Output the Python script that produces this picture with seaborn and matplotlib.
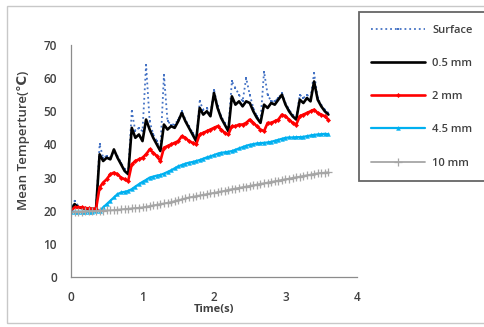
import numpy as np
import pandas as pd
import matplotlib
matplotlib.use("Agg")
import matplotlib.pyplot as plt
import seaborn as sns
from matplotlib.patches import Rectangle

sns.set_theme(style="white")
plt.rcParams['font.family'] = ['Open Sans', 'DejaVu Sans']

# time steps (s)
time = np.round(np.arange(0, 3.601, 0.05), 2)

surface = [20, 23, 21.5, 21, 20.8, 20.6, 20.6, 20.6,
           40, 36, 36.5, 36, 38, 36.5, 34.5, 32.5, 31.5,
           50, 44, 45, 44, 64, 47, 43, 41, 38.5,
           61, 47, 46, 46, 47.5, 50, 47.5, 45.5, 43.5, 41.5,
           53, 50.5, 51, 49, 56.5, 51.5, 48.5, 46.5, 44.5,
           59, 57, 55, 53, 60, 55, 51, 48.5, 47,
           62, 55, 53, 53, 54, 55.5, 52.5, 50.5, 49, 48,
           55, 54, 55, 54, 61.5, 54, 52, 50.5, 49.5]
mm05 = [20, 22, 21, 20.8, 20.6, 20.5, 20.5, 20.5,
        37, 35, 36, 35.5, 38.5, 36, 34, 32, 31,
        45, 42, 43, 41, 47.5, 44.5, 42, 40, 38,
        46, 44.5, 45.5, 45, 47, 49.5, 47, 45, 43, 41,
        51, 49, 50, 48.5, 55.5, 51, 48, 46, 44,
        54.5, 52, 53, 51.5, 53, 52.5, 50, 48, 46.5,
        52, 51, 52.5, 52, 53.5, 55, 52, 50, 48.5, 47.5,
        53.5, 52.5, 54, 53, 59, 53.5, 51.5, 50, 49]
mm2 = [20, 21, 21, 21, 20.8, 20.7, 20.6, 20.6,
       27, 28.5, 29.5, 31, 31.5, 31, 30, 29.5, 29,
       34, 35, 35.5, 36, 37, 38.5, 37.5, 36.5, 35,
       39, 39.5, 40, 40.5, 41, 42.5, 42, 41, 40.5, 40,
       43, 43.5, 44, 44.5, 45, 45.5, 44.5, 43.5, 43,
       45.5, 45.5, 46, 46, 46.5, 47.5, 46.5, 45.5, 44.5,
       44, 46.5, 46.5, 47, 47.5, 49, 48.5, 47.5, 46.5, 46,
       48.5, 49, 49.5, 50, 50.5, 49.5, 49, 48.5, 47.5]
mm45 = [19.7, 19.7, 19.7, 19.7, 19.7, 19.7, 19.7, 19.8,
        20, 21, 22, 23, 24, 25, 25.5, 25.7, 26,
        26.5, 27.3, 28, 28.7, 29.3, 30, 30.3, 30.6, 30.8,
        31.2, 31.7, 32.2, 32.8, 33.4, 33.8, 34.2, 34.5, 34.7, 35,
        35.3, 35.7, 36.1, 36.4, 36.8, 37.2, 37.5, 37.6, 37.8,
        38, 38.4, 38.8, 39.2, 39.6, 39.9, 40.1, 40.3, 40.4,
        40.5, 40.6, 40.8, 41.1, 41.4, 41.7, 42, 42.1, 42.1, 42.2,
        42.2, 42.3, 42.5, 42.7, 42.9, 43, 43.1, 43.2, 43.1]
mm10 = [19.5, 19.6, 19.7, 19.7, 19.8, 19.8, 19.9, 19.9,
        20, 20, 20.1, 20.1, 20.2, 20.3, 20.4, 20.5, 20.6,
        20.7, 20.8, 20.9, 21, 21.2, 21.4, 21.6, 21.8, 22,
        22.2, 22.4, 22.6, 22.9, 23.2, 23.4, 23.7, 24, 24.2, 24.4,
        24.6, 24.8, 25, 25.2, 25.4, 25.6, 25.8, 26, 26.3,
        26.5, 26.7, 26.9, 27.1, 27.3, 27.5, 27.7, 27.9, 28.1,
        28.3, 28.5, 28.7, 28.9, 29.1, 29.3, 29.5, 29.7, 29.9, 30.1,
        30.3, 30.5, 30.7, 30.9, 31.1, 31.3, 31.4, 31.5, 31.6]

series = [
    ("Surface", surface, dict(color="#4472C4", linestyle=":", lw=1.3, marker="s", markersize=1.8,
                              mec="#4472C4", mew=0)),
    ("0.5 mm", mm05, dict(color="black", linestyle="-", lw=1.9)),
    ("2 mm", mm2, dict(color="#FF0000", linestyle="-", lw=1.9, marker="D", markersize=2.2,
                       mec="#FF0000", mew=0.3)),
    ("4.5 mm", mm45, dict(color="#00B0F0", linestyle="-", lw=1.6, marker="^", markersize=2.8,
                          mec="#00B0F0", mew=0.3)),
    ("10 mm", mm10, dict(color="#A6A6A6", linestyle="-", lw=1.3, marker="+", markersize=6,
                         mec="#A6A6A6", mew=0.9)),
]

fig = plt.figure(figsize=(4.84, 3.27), dpi=100)
ax = fig.add_axes([0.1467, 0.1529, 0.5909, 0.7095])

for name, vals, style in series:
    df = pd.DataFrame({"Time": time, "Temp": vals})
    sns.lineplot(data=df, x="Time", y="Temp", ax=ax, label=name, **style)

ax.set_xlim(0, 4)
ax.set_ylim(0, 70)
ax.set_xticks(range(0, 5))
ax.set_yticks(range(0, 71, 10))
for s in ["top", "right"]:
    ax.spines[s].set_visible(False)
for s in ["left", "bottom"]:
    ax.spines[s].set_color("#8C8C8C")
    ax.spines[s].set_linewidth(0.9)
ax.tick_params(axis="both", direction="out", length=3, width=0.8, color="#8C8C8C",
               labelsize=8.5, labelcolor="#404040", pad=7)
for lab in ax.get_xticklabels() + ax.get_yticklabels():
    lab.set_fontweight("semibold")
ax.set_xlabel("Time(s)", fontsize=8, fontweight="bold", color="#404040", labelpad=0)
ax.set_ylabel("Mean Temperture(\u2103)", fontsize=9.5, fontweight="semibold", color="#404040")
ax.yaxis.set_label_coords(-0.145, 0.59)

leg = ax.legend(loc="upper left", bbox_to_anchor=(0.741, 0.962), bbox_transform=fig.transFigure,
                frameon=True, fontsize=8, handlelength=4.9, labelspacing=2.0,
                borderpad=1.1, handletextpad=0.6, borderaxespad=0, fancybox=False, shadow=False)
leg.get_frame().set_edgecolor("#404040")
leg.get_frame().set_linewidth(1.3)
for t in leg.get_texts():
    t.set_color("#404040")
    t.set_fontweight("semibold")

fig.patches.append(Rectangle((0.014, 0.012), 1.2, 0.97, transform=fig.transFigure,
                             fill=False, edgecolor="#C8C8C8", lw=1.0))

fig.savefig("out.png", dpi=100)
